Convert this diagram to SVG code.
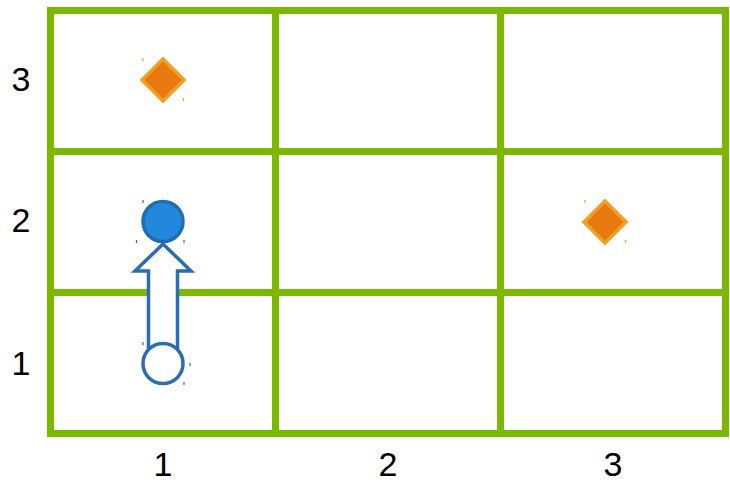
<svg xmlns="http://www.w3.org/2000/svg" width="730" height="482" viewBox="0 0 730 482">
<style>
.grid{stroke:#7DB800;stroke-width:7;fill:none;stroke-linecap:square}
.lbl{font-family:"Liberation Sans",Arial,sans-serif;font-size:34px;fill:#000;text-anchor:middle}
.dia{fill:#E8790E;stroke:#F0A023;stroke-width:3.5}
.tk{stroke-width:1.2}
</style>
<rect width="730" height="482" fill="#fff"/>
<g id="grid">
<rect class="grid" x="50.5" y="10.5" width="675" height="423"/>
<line class="grid" x1="275.5" y1="10.5" x2="275.5" y2="433.5"/>
<line class="grid" x1="500.5" y1="10.5" x2="500.5" y2="433.5"/>
<line class="grid" x1="50.5" y1="151.5" x2="725.5" y2="151.5"/>
<line class="grid" x1="50.5" y1="292.5" x2="725.5" y2="292.5"/>
</g>
<g id="labels">
<text class="lbl" x="21" y="90.5">3</text>
<text class="lbl" x="21" y="232">2</text>
<text class="lbl" x="21" y="375">1</text>
<text class="lbl" x="163" y="476">1</text>
<text class="lbl" x="388" y="476">2</text>
<text class="lbl" x="613" y="476">3</text>
</g>
<g id="connectors">
<polygon points="163,244 191,271 177.5,271 177.5,350 148.5,350 148.5,271 135,271" fill="#fff" stroke="#2A6DB0" stroke-width="3.5" stroke-linejoin="miter"/>
</g>
<g id="goal1">
<polygon class="dia" points="163,59 184,80 163,101 142,80"/>
<line class="tk" x1="143" y1="58" x2="143" y2="61" stroke="#F0A023"/>
<line class="tk" x1="183.5" y1="98" x2="183.5" y2="101" stroke="#F0A023"/>
</g>
<g id="goal2">
<polygon class="dia" points="605,201 626,222 605,243 584,222"/>
<line class="tk" x1="585" y1="200" x2="585" y2="203" stroke="#F0A023"/>
<line class="tk" x1="625.5" y1="240" x2="625.5" y2="243" stroke="#F0A023"/>
</g>
<g id="agent">
<circle cx="163" cy="221.5" r="20" fill="#2288DD" stroke="#1F6DB0" stroke-width="3.5"/>
<line class="tk" x1="143" y1="200" x2="143" y2="203" stroke="#2A6DB0"/>
<line class="tk" x1="136.5" y1="240" x2="136.5" y2="243" stroke="#2A6DB0"/>
<line class="tk" x1="184" y1="240" x2="184" y2="243" stroke="#2A6DB0"/>
</g>
<g id="start">
<circle cx="163" cy="363.5" r="20" fill="#fff" stroke="#2A6DB0" stroke-width="3.5"/>
<line class="tk" x1="143" y1="342" x2="143" y2="345" stroke="#2A6DB0"/>
<line class="tk" x1="190" y1="363" x2="190" y2="366" stroke="#2A6DB0"/>
<line class="tk" x1="184" y1="382" x2="184" y2="385" stroke="#2A6DB0"/>
</g>
</svg>
